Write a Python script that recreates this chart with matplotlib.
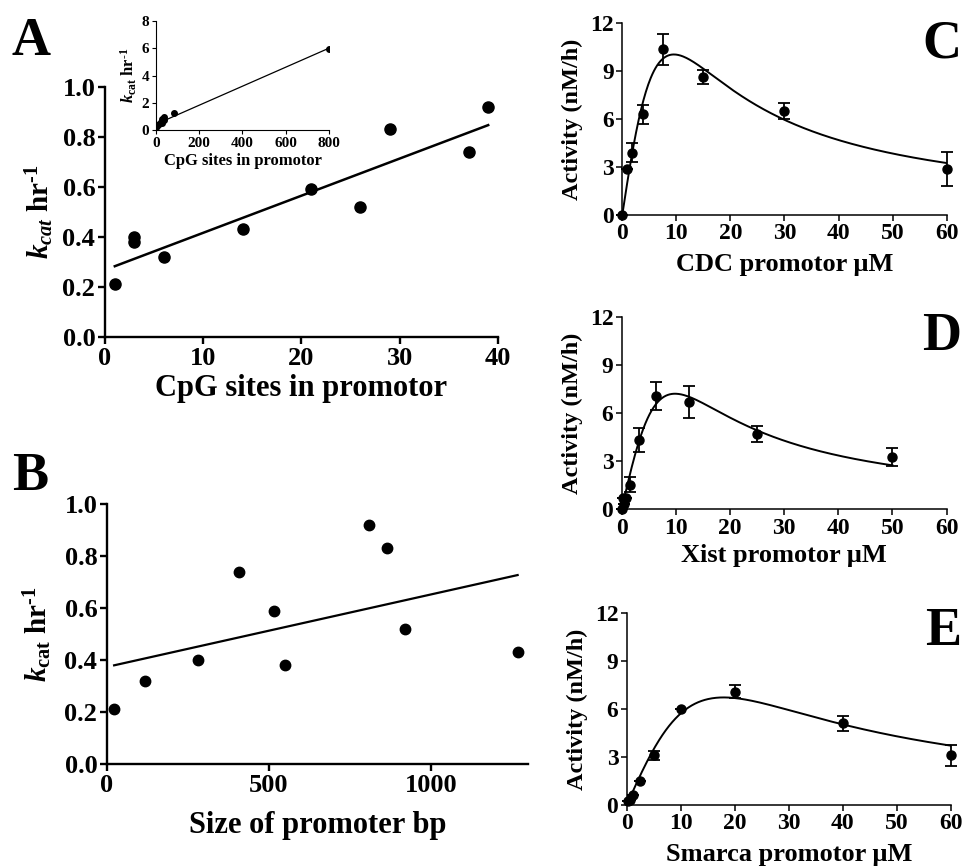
import numpy as np
import matplotlib
matplotlib.use('Agg')
import matplotlib.pyplot as plt

plt.rcParams['font.family'] = 'Liberation Serif'
plt.rcParams['font.weight'] = 'bold'
plt.rcParams['mathtext.fontset'] = 'custom'
plt.rcParams['mathtext.rm'] = 'Liberation Serif:bold'
plt.rcParams['mathtext.it'] = 'Liberation Serif:italic:bold'
plt.rcParams['mathtext.bf'] = 'Liberation Serif:bold'

# --- Data ---
# A: kcat vs CpG sites
cpg_sites = [1, 3, 3, 6, 14, 21, 26, 29, 37, 39]
kcat_a = [0.21, 0.40, 0.38, 0.32, 0.43, 0.59, 0.52, 0.83, 0.74, 0.92]
# inset: same genes plus two long promotors
inset_sites = cpg_sites + [85, 800]
inset_kcat = kcat_a + [1.23, 5.97]

# B: kcat vs promoter size
size_bp = [22, 118, 280, 409, 517, 551, 809, 866, 920, 1268]
kcat_b = [0.21, 0.32, 0.40, 0.74, 0.59, 0.38, 0.92, 0.83, 0.52, 0.43]

# C: CDC promotor
cdc_conc = [0, 0.94, 1.875, 3.75, 7.5, 15, 30, 60]
cdc_act = [0, 2.85, 3.9, 6.28, 10.34, 8.63, 6.49, 2.85]
cdc_err = [0, 0, 0.6, 0.6, 0.95, 0.43, 0.48, 1.07]

# D: Xist promotor
xist_conc = [0, 0.2, 0.39, 0.78, 1.56, 3.125, 6.25, 12.5, 25, 50]
xist_act = [0, 0.7, 0.35, 0.7, 1.55, 4.33, 7.08, 6.69, 4.71, 3.25]
xist_err = [0, 0, 0, 0, 0.45, 0.73, 0.88, 1.0, 0.48, 0.57]

# E: Smarca promotor
smarca_conc = [0.15, 0.6, 1.25, 2.5, 5, 10, 20, 40, 60]
smarca_act = [0.25, 0.3, 0.6, 1.5, 3.1, 6.0, 7.1, 5.12, 3.1]
smarca_err = [0, 0, 0, 0, 0.28, 0, 0.38, 0.47, 0.65]


def fit_inhibition(s, v):
    # substrate inhibition: v = Vmax*S/(Km + S*(1 + S/Ki)), least squares by grid
    s = np.asarray(s, float)
    v = np.asarray(v, float)
    km = np.logspace(-1, 3, 300)[:, None, None]
    ki = np.logspace(-1, 3, 300)[None, :, None]
    g = s / (km + s + s**2 / ki)
    vmax = (g * v).sum(-1) / (g * g).sum(-1)
    err = ((vmax[..., None] * g - v)**2).sum(-1)
    i, j = np.unravel_index(np.argmin(err), err.shape)
    return vmax[i, j], km[i, 0, 0], ki[0, j, 0]


def style_axes(ax, lw, ticklen, size):
    ax.spines['top'].set_visible(False)
    ax.spines['right'].set_visible(False)
    ax.spines['left'].set_linewidth(lw)
    ax.spines['bottom'].set_linewidth(lw)
    ax.tick_params(direction='out', length=ticklen, width=lw, labelsize=size, pad=2)


fig = plt.figure(figsize=(9.64, 8.68), dpi=100)

# --- A ---
axA = fig.add_axes([0.1089, 0.6118, 0.4077, 0.288])
axA.plot(cpg_sites, kcat_a, 'o', color='black', markersize=8)
k, b = np.polyfit(cpg_sites, kcat_a, 1)
xs = np.array([min(cpg_sites), max(cpg_sites)])
axA.plot(xs, k * xs + b, color='black', lw=1.8)
axA.set_xlim(0, 40)
axA.set_ylim(0, 1.0)
axA.set_xticks([0, 10, 20, 30, 40])
axA.set_yticks([0.0, 0.2, 0.4, 0.6, 0.8, 1.0])
axA.yaxis.set_major_formatter(matplotlib.ticker.FormatStrFormatter('%.1f'))
style_axes(axA, 1.7, 5, 19)
axA.set_xlabel('CpG sites in promotor', fontsize=22, fontweight='bold')
axA.set_ylabel(r'$k_{cat}$ hr$^{\text{-1}}$', fontsize=21, fontweight='bold')
axA.xaxis.set_label_coords(0.5, -0.15)
axA.yaxis.set_label_coords(-0.125, 0.5)

# inset
axI = fig.add_axes([0.1618, 0.8502, 0.1795, 0.1256])
axI.plot(inset_sites, inset_kcat, 'o', color='black', markersize=4)
k2, b2 = np.polyfit(inset_sites, inset_kcat, 1)
xs2 = np.array([0, max(inset_sites)])
axI.plot(xs2, k2 * xs2 + b2, color='black', lw=0.9)
axI.set_xlim(0, 800)
axI.set_ylim(0, 8)
axI.set_xticks([0, 200, 400, 600, 800])
axI.set_yticks([0, 2, 4, 6, 8])
style_axes(axI, 0.8, 3, 11)
axI.patch.set_alpha(0)
axI.set_xlabel('CpG sites in promotor', fontsize=12, fontweight='bold', labelpad=2)
axI.set_ylabel(r'$k_{\rm cat}$ hr$^{\text{-1}}$', fontsize=12, fontweight='bold', labelpad=2)

# --- B ---
axB = fig.add_axes([0.1110, 0.1198, 0.4367, 0.2995])
axB.plot(size_bp, kcat_b, 'o', color='black', markersize=7.5)
k3, b3 = np.polyfit(size_bp, kcat_b, 1)
xs3 = np.array([min(size_bp), max(size_bp)])
axB.plot(xs3, k3 * xs3 + b3, color='black', lw=1.6)
axB.set_xlim(0, 1300)
axB.set_ylim(0, 1.0)
axB.set_xticks([0, 500, 1000])
axB.set_yticks([0.0, 0.2, 0.4, 0.6, 0.8, 1.0])
axB.yaxis.set_major_formatter(matplotlib.ticker.FormatStrFormatter('%.1f'))
style_axes(axB, 1.7, 5, 19)
axB.set_xlabel('Size of promoter bp', fontsize=22, fontweight='bold')
axB.set_ylabel(r'$k_{\rm cat}$ hr$^{\text{-1}}$', fontsize=21, fontweight='bold')
axB.xaxis.set_label_coords(0.5, -0.18)
axB.yaxis.set_label_coords(-0.125, 0.5)

# --- C, D, E ---
right_panels = [
    ([0.6455, 0.7523, 0.3365, 0.2215], cdc_conc, cdc_act, cdc_err, 'CDC promotor \u03bcM', -0.2),
    ([0.6449, 0.4132, 0.3371, 0.2212], xist_conc, xist_act, xist_err, 'Xist promotor \u03bcM', -0.18),
    ([0.6501, 0.0726, 0.3364, 0.2209], smarca_conc, smarca_act, smarca_err, 'Smarca promotor \u03bcM', -0.2),
]
for pos, conc, act, err, xlabel, ly in right_panels:
    ax = fig.add_axes(pos)
    ax.errorbar(conc, act, yerr=err, fmt='o', color='black', markersize=6.5,
                capsize=4, elinewidth=1.3, capthick=1.3, clip_on=False, zorder=3)
    vmax, km, ki = fit_inhibition(conc, act)
    s = np.linspace(0, max(conc), 400)
    ax.plot(s, vmax * s / (km + s * (1 + s / ki)), color='black', lw=1.4)
    ax.set_xlim(0, 60)
    ax.set_ylim(0, 12)
    ax.set_xticks([0, 10, 20, 30, 40, 50, 60])
    ax.set_yticks([0, 3, 6, 9, 12])
    style_axes(ax, 1.1, 4, 17)
    ax.set_xlabel(xlabel, fontsize=19, fontweight='bold')
    ax.set_ylabel('Activity (nM/h)', fontsize=17.5, fontweight='bold')
    ax.xaxis.set_label_coords(0.5, ly)
    ax.yaxis.set_label_coords(-0.12, 0.5)

# panel letters
letters = [('A', 12, 55), ('B', 12, 490), ('C', 922, 57), ('D', 922, 350), ('E', 925, 645)]
for letter, px, py in letters:
    fig.text(px / 964, 1 - py / 868, letter, fontsize=39, fontweight='bold',
             ha='left', va='baseline')

fig.savefig('out.png', dpi=100)
